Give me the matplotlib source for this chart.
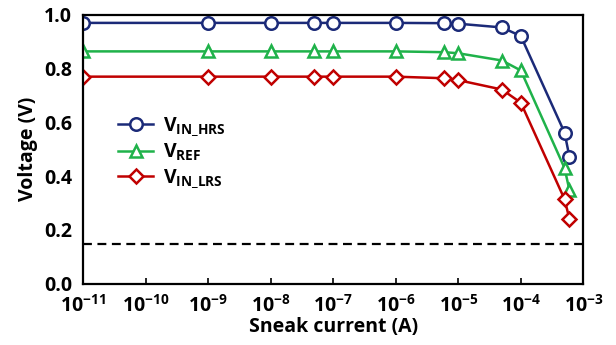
import matplotlib
matplotlib.use('Agg')
import matplotlib.pyplot as plt

plt.rcParams['font.family'] = ['Open Sans', 'DejaVu Sans']
plt.rcParams['font.weight'] = 'bold'
plt.rcParams['mathtext.fontset'] = 'custom'
plt.rcParams['mathtext.rm'] = 'Open Sans:bold'
plt.rcParams['mathtext.bf'] = 'Open Sans:bold'
plt.rcParams['mathtext.default'] = 'rm'
plt.rcParams['axes.unicode_minus'] = False

# sneak current (A)
current = [1e-11, 1e-9, 1e-8, 5e-8, 1e-7, 1e-6, 6e-6, 1e-5, 5e-5, 1e-4, 5e-4, 6e-4]
v_in_hrs = [0.970, 0.970, 0.970, 0.970, 0.970, 0.970, 0.969, 0.967, 0.953, 0.921, 0.562, 0.471]
v_ref = [0.864, 0.864, 0.864, 0.864, 0.864, 0.864, 0.861, 0.857, 0.830, 0.793, 0.430, 0.347]
v_in_lrs = [0.770, 0.770, 0.770, 0.770, 0.770, 0.770, 0.764, 0.757, 0.722, 0.673, 0.314, 0.240]
threshold = 0.148

x_exponents = [-11, -10, -9, -8, -7, -6, -5, -4, -3]
x_ticklabels = ['10$^{%d}$' % e for e in x_exponents]
y_ticks = [0, 0.2, 0.4, 0.6, 0.8, 1.0]
y_ticklabels = ['0.0', '0.2', '0.4', '0.6', '0.8', '1.0']

fig = plt.figure(figsize=(6.16, 3.45), dpi=100)
ax = fig.add_axes([0.135, 0.178, 0.812, 0.779])

style = dict(lw=1.8, markersize=9, markeredgewidth=1.8, markerfacecolor='white')
ax.plot(current, v_in_hrs, '-o', color='#1b2a78', label=r'V$_{\mathrm{IN\_HRS}}$', **style)
ax.plot(current, v_ref, '-^', color='#1fb24a', label=r'V$_{\mathrm{REF}}$', **style)
ax.plot(current, v_in_lrs, '-D', color='#c00000', label=r'V$_{\mathrm{IN\_LRS}}$',
        lw=1.8, markersize=7.5, markeredgewidth=1.8, markerfacecolor='white')
ax.axhline(threshold, color='black', lw=1.6, ls=(0, (4, 2.5)))

ax.set_xscale('log')
ax.set_xlim(1e-11, 1e-3)
ax.set_ylim(0, 1.0)
ax.set_xticks([10.0 ** e for e in x_exponents])
ax.set_xticklabels(x_ticklabels)
ax.minorticks_off()
ax.set_yticks(y_ticks)
ax.set_yticklabels(y_ticklabels)
ax.tick_params(axis='x', direction='in', length=4, width=1.2, labelsize=14, pad=8)
ax.tick_params(axis='y', direction='in', length=0, labelsize=14, pad=8)
for s in ax.spines.values():
    s.set_linewidth(1.6)

ax.set_xlabel('Sneak current (A)', fontsize=14, fontweight='bold', labelpad=0)
ax.set_ylabel('Voltage (V)', fontsize=14, fontweight='bold', labelpad=4)

ax.legend(loc='upper left', bbox_to_anchor=(0.035, 0.69), frameon=False, fontsize=14,
          handlelength=1.8, handletextpad=0.5, labelspacing=0.2)

fig.savefig('out.png', dpi=100)
